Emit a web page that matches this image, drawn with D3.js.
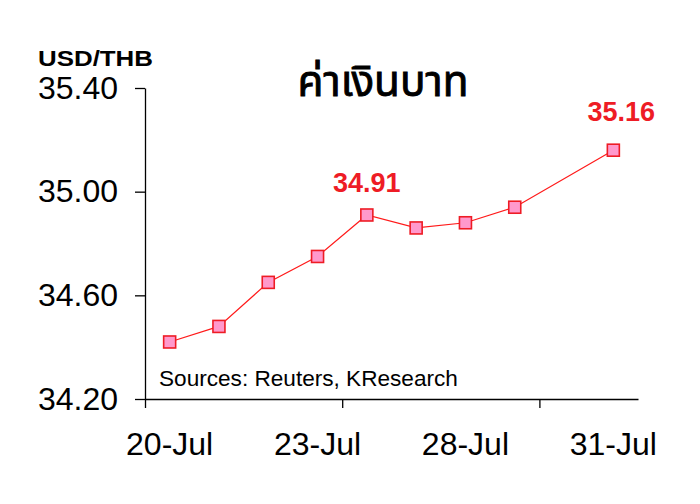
<!DOCTYPE html>
<html>
<head>
<meta charset="utf-8">
<script src="https://cdn.jsdelivr.net/npm/d3@7/dist/d3.min.js"></script>
<style>
  html, body { margin: 0; padding: 0; background: #fff; }
  svg text { font-family: "Liberation Sans", Arial, sans-serif; }
</style>
</head>
<body>
<svg id="chart" width="700" height="504"></svg>
<script>
// dates on the axis (30-Jul has no quote)
const categories = ["20-Jul", "21-Jul", "22-Jul", "23-Jul", "24-Jul", "27-Jul", "28-Jul", "29-Jul", "30-Jul", "31-Jul"];
const usdThb = [34.42, 34.48, 34.65, 34.75, 34.91, 34.86, 34.88, 34.94, null, 35.16];
const shownLabels = ["20-Jul", "23-Jul", "28-Jul", "31-Jul"];
const yTicks = [34.20, 34.60, 35.00, 35.40];
const labelled = ["24-Jul", "31-Jul"];

const width = 700;
const height = 504;
const margin = { left: 145, right: 62, top: 88, bottom: 105 };

const svg = d3.select("#chart");

const x = d3.scaleBand()
    .domain(categories)
    .range([margin.left, width - margin.right])
    .paddingInner(0)
    .paddingOuter(0);

const y = d3.scaleLinear()
    .domain([34.2, 35.4])
    .range([height - margin.bottom, margin.top]);

// boundary scale for the tick marks (every 4 categories)
const xEdge = d3.scaleLinear()
    .domain([0, categories.length])
    .range([margin.left, width - margin.right]);

// x axis line + tick marks
svg.append("g")
    .attr("transform", `translate(0, ${height - margin.bottom})`)
    .call(d3.axisBottom(xEdge).tickValues([0, 4, 8]).tickSize(9).tickSizeOuter(0).tickFormat(""))
    .call(g => g.selectAll("path, line").attr("stroke", "#000").attr("stroke-width", 1.3));

// x labels, every 3rd date
svg.append("g")
    .attr("transform", `translate(0, ${height - margin.bottom})`)
    .call(d3.axisBottom(x).tickValues(shownLabels).tickSize(0).tickPadding(33))
    .call(g => g.select(".domain").remove())
    .call(g => g.selectAll("text")
        .attr("font-size", 32)
        .attr("font-family", "Liberation Sans, Arial, sans-serif")
        .attr("fill", "#000"));

// y axis
svg.append("g")
    .attr("transform", `translate(${margin.left}, 0)`)
    .call(d3.axisLeft(y).tickValues(yTicks).tickSize(10).tickSizeOuter(0).tickPadding(17).tickFormat(d3.format(".2f")))
    .call(g => g.selectAll("path, line").attr("stroke", "#000").attr("stroke-width", 1.3))
    .call(g => g.selectAll("text")
        .attr("font-size", 32)
        .attr("font-family", "Liberation Sans, Arial, sans-serif")
        .attr("fill", "#000"));

const points = categories
    .map((c, i) => ({ cat: c, value: usdThb[i] }))
    .filter(d => d.value != null);

const cx = d => x(d.cat) + x.bandwidth() / 2;

const line = d3.line()
    .x(cx)
    .y(d => y(d.value));

svg.append("path")
    .datum(points)
    .attr("d", line)
    .attr("fill", "none")
    .attr("stroke", "#ff1a1a")
    .attr("stroke-width", 1.2);

const size = 12;
svg.selectAll(".marker")
    .data(points)
    .enter()
    .append("rect")
    .attr("class", "marker")
    .attr("x", d => cx(d) - size / 2)
    .attr("y", d => y(d.value) - size / 2)
    .attr("width", size)
    .attr("height", size)
    .attr("fill", "#ff99cc")
    .attr("stroke", "#ee1c25")
    .attr("stroke-width", 1.6);

// value labels
const labelOffset = { "24-Jul": [0, -23], "31-Jul": [8, -29] };
svg.selectAll(".vlabel")
    .data(points.filter(d => labelled.includes(d.cat)))
    .enter()
    .append("text")
    .attr("class", "vlabel")
    .attr("x", d => cx(d) + labelOffset[d.cat][0])
    .attr("y", d => y(d.value) + labelOffset[d.cat][1])
    .attr("text-anchor", "middle")
    .attr("font-size", 27)
    .attr("font-weight", "bold")
    .attr("fill", "#ee1c25")
    .text(d => d.value.toFixed(2));

// unit label
svg.append("text")
    .attr("x", 38)
    .attr("y", 66)
    .attr("font-size", 22)
    .attr("font-weight", "bold")
    .attr("textLength", 115)
    .attr("lengthAdjust", "spacingAndGlyphs")
    .text("USD/THB");

// title
svg.append("text")
    .attr("x", 383)
    .attr("y", 96)
    .attr("text-anchor", "middle")
    .attr("font-size", 42)
    .attr("textLength", 171)
    .attr("lengthAdjust", "spacingAndGlyphs")
    .attr("stroke", "#000")
    .attr("stroke-width", 0.9)
    .style("font-family", "Tahoma, 'Noto Sans Thai', 'DejaVu Sans', sans-serif")
    .text("ค่าเงินบาท");

// source note
svg.append("text")
    .attr("x", 159)
    .attr("y", 386)
    .attr("font-size", 22.6)
    .text("Sources: Reuters, KResearch");
</script>
</body>
</html>
